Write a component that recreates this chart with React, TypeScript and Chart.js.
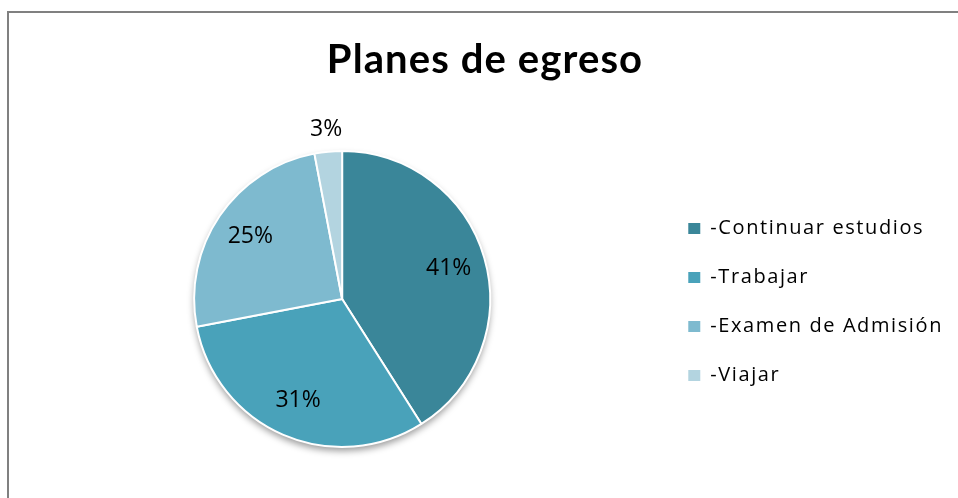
import React, { useEffect, useRef } from "react";
import { Chart, registerables } from "chart.js";

Chart.register(...registerables);

const titleText = "Planes de egreso";
const categories = ["-Continuar estudios", "-Trabajar", "-Examen de Admisión", "-Viajar"];
const values = [41, 31, 25, 3];
const sliceColors = ["#3A8699", "#49A2BA", "#7EBACF", "#B3D4E0"];

const TITLE_FONT = "Lato, 'Open Sans', sans-serif";
const TEXT_FONT = "'Open Sans', Lato, sans-serif";
const TITLE_SPACING = "1.1px";
const LEGEND_SPACING = "1.6px";

const wrapDraw = (chart: any, box: any, spacing: string) => {
  if (!box || box.__wrapped) return;
  const orig = box.draw;
  box.draw = function (...args: any[]) {
    const ctx = chart.ctx;
    const prev = ctx.letterSpacing;
    ctx.letterSpacing = spacing;
    orig.apply(this, args);
    ctx.letterSpacing = prev;
  };
  box.__wrapped = true;
};

const spacingPlugin = {
  id: "spacing",
  beforeLayout(chart: any) {
    chart.ctx.letterSpacing = LEGEND_SPACING;
  },
  afterLayout(chart: any) {
    chart.ctx.letterSpacing = "0px";
    const t = chart.titleBlock;
    if (t) t.left -= 8;
    wrapDraw(chart, chart.titleBlock, TITLE_SPACING);
    wrapDraw(chart, chart.legend, LEGEND_SPACING);
  },
};

const shadowPlugin = {
  id: "pieShadow",
  beforeDatasetsDraw(chart: any) {
    const meta = chart.getDatasetMeta(0);
    const arc = meta.data[0];
    if (!arc) return;
    const { x, y, outerRadius } = arc.getProps(["x", "y", "outerRadius"], true);
    const ctx = chart.ctx;
    ctx.save();
    ctx.beginPath();
    ctx.arc(x, y, outerRadius, 0, Math.PI * 2);
    ctx.fillStyle = "#ffffff";
    ctx.shadowColor = "rgba(0,0,0,0.4)";
    ctx.shadowBlur = 7;
    ctx.shadowOffsetY = 4;
    ctx.fill();
    ctx.restore();
  },
};

const labelPlugin = {
  id: "pctLabels",
  afterDatasetsDraw(chart: any) {
    const meta = chart.getDatasetMeta(0);
    const data = chart.data.datasets[0].data as number[];
    const total = data.reduce((a, b) => a + b, 0);
    const ctx = chart.ctx;
    ctx.save();
    ctx.letterSpacing = "0px";
    ctx.font = `23px ${TEXT_FONT}`;
    ctx.fillStyle = "#000";
    ctx.textAlign = "center";
    ctx.textBaseline = "middle";
    meta.data.forEach((arc: any, i: number) => {
      const { x, y, startAngle, endAngle, outerRadius } = arc.getProps(
        ["x", "y", "startAngle", "endAngle", "outerRadius"],
        true
      );
      const mid = (startAngle + endAngle) / 2;
      const pct = Math.round((data[i] / total) * 100);
      const r = pct < 5 ? outerRadius + 22 : outerRadius * 0.75;
      ctx.fillText(`${pct}%`, x + Math.cos(mid) * r, y + Math.sin(mid) * r);
    });
    ctx.restore();
  },
};

export default function App() {
  const ref = useRef<HTMLCanvasElement | null>(null);
  useEffect(() => {
    if (!ref.current) return;
    const chart = new Chart(ref.current, {
      type: "pie",
      data: {
        labels: categories,
        datasets: [
          {
            data: values,
            backgroundColor: sliceColors,
            borderColor: "#ffffff",
            borderWidth: 2,
            hoverOffset: 0,
          },
        ],
      },
      options: {
        responsive: false,
        animation: false,
        events: [],
        layout: { padding: { left: 25, right: 5, top: 0, bottom: 50 } },
        plugins: {
          tooltip: { enabled: false },
          title: {
            display: true,
            text: titleText,
            color: "#000",
            font: { family: TITLE_FONT, size: 40, weight: "bold" },
            padding: { top: 36, bottom: 66 },
          },
          legend: {
            position: "right",
            fullSize: false,
            title: {
              display: true,
              text: " ",
              color: "rgba(0,0,0,0)",
              font: { family: TEXT_FONT, size: 5 },
              padding: 0,
            },
            labels: {
              color: "#000",
              font: { family: TEXT_FONT, size: 20 },
              boxWidth: 12,
              boxHeight: 11,
              padding: 29,
              generateLabels(c: any) {
                const base = (Chart as any).overrides.pie.plugins.legend.labels.generateLabels(c);
                return base.map((l: any) => ({ ...l, lineWidth: 0, strokeStyle: "transparent" }));
              },
            },
          },
        },
      },
      plugins: [spacingPlugin, shadowPlugin, labelPlugin],
    });
    return () => chart.destroy();
  }, []);

  return (
    <div style={{ position: "absolute", left: 0, top: 0, width: 958, height: 498, background: "#fff" }}>
      <canvas ref={ref} width={958} height={498} style={{ position: "absolute", left: 0, top: 0 }} />
      <div
        style={{
          position: "absolute",
          left: 7,
          top: 11,
          width: 951,
          height: 487,
          borderTop: "2px solid #808080",
          borderLeft: "2px solid #808080",
          boxSizing: "border-box",
          pointerEvents: "none",
        }}
      />
    </div>
  );
}
